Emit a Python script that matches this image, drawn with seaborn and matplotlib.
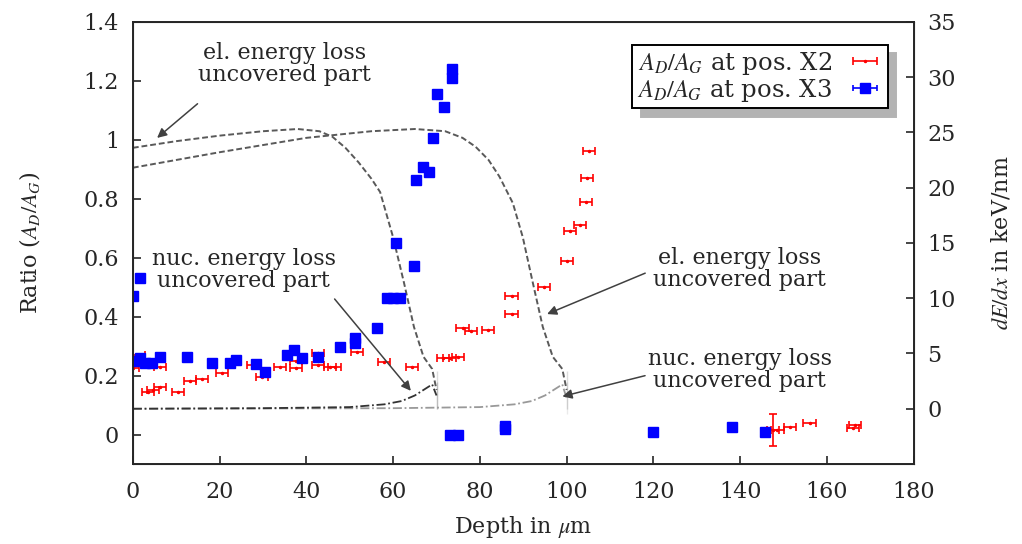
import numpy as np
import pandas as pd
import matplotlib
matplotlib.use("Agg")
import matplotlib.pyplot as plt
import seaborn as sns

# measured ratio A_D/A_G, position X2 (red)
x2_depth = [0, 1.5, 3.5, 4.6, 6.2, 6.2, 10.4, 13.1, 15.9, 20.5, 27.6, 29.7, 33.9, 37.7, 37.7,
            42.6, 42.6, 45.4, 46.5, 51.6, 57.8, 64.3, 71.4, 73.0, 74.9, 76.0, 78.0, 81.8,
            87.3, 87.3, 94.7, 100.0, 100.7, 103.0, 104.4, 104.6, 105.1,
            147.5, 148.6, 151.4, 156.0, 166.0, 166.4]
x2_ratio = [0.225, 0.27, 0.145, 0.15, 0.16, 0.23, 0.145, 0.18, 0.19, 0.21, 0.236, 0.195, 0.23, 0.25, 0.225,
            0.276, 0.236, 0.23, 0.23, 0.28, 0.246, 0.23, 0.26, 0.26, 0.263, 0.36, 0.35, 0.355,
            0.47, 0.41, 0.50, 0.59, 0.69, 0.71, 0.79, 0.87, 0.96,
            0.015, 0.015, 0.026, 0.04, 0.022, 0.032]
# the one X2 point with a visible vertical error
x2_big_depth = [147.5]
x2_big_ratio = [0.015]
x2_big_yerr = [0.055]

# measured ratio A_D/A_G, position X3 (blue)
x3_depth = [0, 0.3, 1.6, 1.6, 2.8, 4.4, 6.2, 12.4, 18.2, 22.4, 23.7, 28.3, 30.4, 35.5, 37.1, 38.9,
            42.6, 47.7, 51.2, 51.2, 56.2, 58.5, 60.0, 61.5, 60.6, 64.7, 65.2, 66.8, 68.2,
            69.1, 70.0, 71.7, 73.5, 73.5, 73.0, 75.0, 85.7, 85.7, 119.8, 138.2, 145.8]
x3_ratio = [0.47, 0.25, 0.53, 0.26, 0.243, 0.243, 0.263, 0.263, 0.243, 0.243, 0.253, 0.24, 0.212,
            0.27, 0.287, 0.26, 0.263, 0.297, 0.327, 0.31, 0.36, 0.463, 0.463, 0.463, 0.65,
            0.572, 0.863, 0.908, 0.89, 1.005, 1.155, 1.11, 1.24, 1.21, 0.0, 0.0, 0.02, 0.03,
            0.008, 0.025, 0.008]

# dE/dx curves (keV/nm), uncovered part
el1_x = [0, 10, 20, 30, 38, 43, 46, 49, 52, 55, 57, 60, 62.5, 64.8, 67, 69, 70, 70]
el1_y = [23.6, 24.2, 24.7, 25.1, 25.3, 25.1, 24.6, 23.6, 22.3, 20.8, 19.6, 15.5, 11.4, 7.4, 4.7, 3.6, 3.4, 0]
el2_x = [0, 20, 40, 55, 65, 72, 76, 79, 82, 84.5, 87.6, 89.9, 92.2, 94.5, 96.8, 99, 100, 100]
el2_y = [21.8, 23.2, 24.5, 25.1, 25.3, 25.1, 24.5, 23.7, 22.5, 21.0, 18.6, 15.5, 11.4, 7.4, 4.7, 3.6, 3.4, 0]
nuc1_x = [0, 30, 50, 58, 62, 65, 67, 69, 70, 70]
nuc1_y = [0, 0.05, 0.15, 0.4, 0.7, 1.2, 1.7, 2.2, 2.4, 0]
nuc2_x = [0, 60, 80, 88, 92, 95, 97, 99, 100, 100]
nuc2_y = [0, 0.05, 0.15, 0.4, 0.7, 1.2, 1.7, 2.2, 2.4, -0.5]

sns.set_style("ticks")
plt.rcParams['font.family'] = ['DejaVu Serif']
plt.rcParams['mathtext.fontset'] = 'stix'
plt.rcParams['font.size'] = 16

fig, ax = plt.subplots(figsize=(10.22, 5.44), dpi=100)
fig.subplots_adjust(left=0.130, right=0.894, top=0.960, bottom=0.147)
ax2 = ax.twinx()

# curves on the right axis
sns.lineplot(x=nuc2_x, y=nuc2_y, ax=ax2, sort=False, color='0.6', lw=1.3,
             linestyle=(0, (5, 1.5, 1, 1.5)))
sns.lineplot(x=nuc1_x, y=nuc1_y, ax=ax2, sort=False, color='0.2', lw=1.3,
             linestyle=(0, (5, 1.5, 1, 1.5)))
sns.lineplot(x=el1_x, y=el1_y, ax=ax2, sort=False, color='0.35', lw=1.4, linestyle=(0, (3, 1.5)))
sns.lineplot(x=el2_x, y=el2_y, ax=ax2, sort=False, color='0.35', lw=1.4, linestyle=(0, (3, 1.5)))
ax2.set_ylim(-5, 35)
ax2.set_yticks(range(0, 36, 5))
ax2.set_ylabel(r'$dE/dx$ in keV/nm', labelpad=24)
ax2.tick_params(direction='in', length=6, width=1.2, labelsize=16, pad=10)

ax.set_zorder(ax2.get_zorder() + 1)
ax.patch.set_visible(False)

ax.errorbar(x2_depth, x2_ratio, xerr=1.4, fmt='.', color='red', ms=3,
            lw=1.2, capsize=3, capthick=1.2, label=r'$A_D/A_G$ at pos. X2')
ax.errorbar(x2_big_depth, x2_big_ratio, yerr=x2_big_yerr, fmt='none', color='red',
            lw=1.2, capsize=3, capthick=1.2)
ax.errorbar(x3_depth, x3_ratio, xerr=0.8, fmt='s', color='blue', ms=7,
            lw=1.2, capsize=2, capthick=1.2, label=r'$A_D/A_G$ at pos. X3')

ax.set_xlim(0, 180)
ax.set_ylim(-0.1, 1.4)
ax.set_xticks(range(0, 181, 20))
ax.set_yticks(np.arange(0, 1.41, 0.2))
ax.set_yticklabels(['0', '0.2', '0.4', '0.6', '0.8', '1', '1.2', '1.4'])
ax.tick_params(direction='in', length=6, width=1.2, labelsize=16, pad=10)
ax.tick_params(axis='x', pad=12)
ax.set_xlabel(r'Depth in $\mu$m', labelpad=8)
ax.set_ylabel(r'Ratio ($A_D/A_G$)', labelpad=30)
for s in ax.spines.values():
    s.set_linewidth(1.4)

# annotations
txt = 'el. energy loss\nuncovered part'
txt_n = 'nuc. energy loss\nuncovered part'
arr = dict(arrowstyle='-|>', color='0.25', lw=1.1, mutation_scale=14)
ax.text(35.0, 1.257, txt, ha='center', va='center', linespacing=1.0)
ax.annotate('', xy=(5.1, 1.0), xytext=(15.4, 1.128), arrowprops=arr)
ax.text(25.6, 0.558, txt_n, ha='center', va='center', linespacing=1.0)
ax.annotate('', xy=(64.5, 0.141), xytext=(46.1, 0.467), arrowprops=arr)
ax.text(139.9, 0.56, txt, ha='center', va='center', linespacing=1.0)
ax.annotate('', xy=(94.9, 0.405), xytext=(118.7, 0.551), arrowprops=arr)
ax.text(139.9, 0.219, txt_n, ha='center', va='center', linespacing=1.0)
ax.annotate('', xy=(98.4, 0.127), xytext=(118.7, 0.202), arrowprops=arr)

leg = ax.legend(loc='upper right', bbox_to_anchor=(0.967, 0.948), borderaxespad=0,
                markerfirst=False, fancybox=False, shadow={'ox': 6, 'oy': -6, 'color': '0.7', 'alpha': 1},
                edgecolor='black', framealpha=1, handlelength=1.5, handletextpad=0.6,
                labelspacing=0.0, borderpad=0.2, fontsize=17.5)
leg.get_frame().set_linewidth(1.4)

fig.savefig('out.png', dpi=100)
